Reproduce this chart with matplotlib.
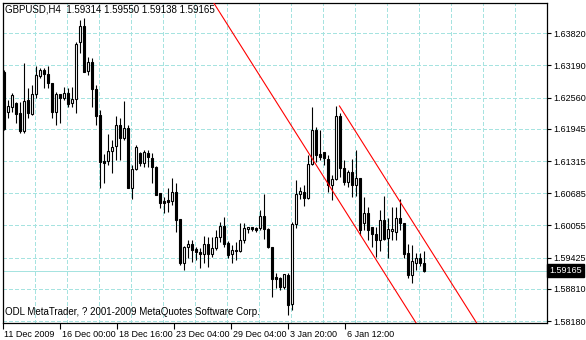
import matplotlib
matplotlib.use("Agg")
import matplotlib.pyplot as plt
import matplotlib.transforms as mtransforms
import numpy as np

FONT = ['Liberation Sans', 'DejaVu Sans']
plt.rcParams['font.family'] = FONT

# ---------------- data (GBPUSD, H4) ----------------
opens = [1.63062, 1.62284, 1.62370, 1.62448, 1.62252, 1.61905, 1.62513, 1.62233, 1.62625, 1.62989,
         1.63101, 1.63017, 1.62837, 1.62284, 1.62625, 1.62546, 1.62644, 1.62448, 1.62527, 1.63644,
         1.63963, 1.63081, 1.63252, 1.62723, 1.62219, 1.61323, 1.61317, 1.61513, 1.61611, 1.62023,
         1.61774, 1.61958, 1.60794, 1.61155, 1.61468, 1.61284, 1.61480, 1.61370, 1.61206, 1.60684,
         1.60539, 1.60553, 1.60539, 1.60704, 1.60181, 1.59324, 1.59638, 1.59685, 1.59593, 1.59540,
         1.59489, 1.59685, 1.59489, 1.59606, 1.59834, 1.60043, 1.59704, 1.59495, 1.59548, 1.59559,
         1.59769, 1.59979, 1.60018, 1.59998, 1.59998, 1.60239, 1.59979, 1.59638, 1.59050, 1.59018,
         1.58854, 1.59083, 1.58515, 1.60083, 1.60665, 1.60716, 1.60586, 1.61253, 1.61925, 1.61455,
         1.61488, 1.61351, 1.60847, 1.60965, 1.62199, 1.61174, 1.60912, 1.61108, 1.60847, 1.60978,
         1.60108, 1.60292, 1.60018, 1.59887, 1.59769, 1.60161, 1.59802, 1.59945, 1.59932, 1.60194,
         1.60108, 1.59508, 1.59083, 1.59324, 1.59422, 1.59314]
highs = [1.63101, 1.62513, 1.62656, 1.62480, 1.62480, 1.63232, 1.62754, 1.62807, 1.63179, 1.63134,
         1.63134, 1.63185, 1.62846, 1.62664, 1.62631, 1.62774, 1.62742, 1.62762, 1.63656, 1.64081,
         1.64120, 1.63362, 1.63330, 1.62807, 1.62317, 1.61455, 1.61847, 1.61729, 1.62199, 1.62154,
         1.62493, 1.62023, 1.61239, 1.61631, 1.61500, 1.61533, 1.61533, 1.61468, 1.61219, 1.60696,
         1.60618, 1.60782, 1.60978, 1.60880, 1.60181, 1.59651, 1.59769, 1.59769, 1.59638, 1.59606,
         1.59847, 1.59834, 1.59822, 1.59965, 1.60128, 1.60226, 1.59749, 1.59671, 1.59736, 1.60108,
         1.60108, 1.60030, 1.60030, 1.60030, 1.60357, 1.60671, 1.59998, 1.59638, 1.59116, 1.59050,
         1.59103, 1.59112, 1.60128, 1.60945, 1.60802, 1.60847, 1.61435, 1.62382, 1.61990, 1.61925,
         1.61500, 1.61435, 1.61043, 1.62395, 1.62252, 1.61337, 1.61141, 1.61351, 1.61533, 1.60984,
         1.60618, 1.60422, 1.60030, 1.60030, 1.60357, 1.60631, 1.60194, 1.60422, 1.60422, 1.60567,
         1.60108, 1.59691, 1.59671, 1.59520, 1.59520, 1.59550]
lows = [1.61925, 1.62166, 1.62284, 1.62056, 1.61872, 1.61872, 1.62154, 1.62219, 1.62546, 1.62950,
        1.62754, 1.62742, 1.62166, 1.62023, 1.62056, 1.62513, 1.62382, 1.62382, 1.62252, 1.63428,
        1.63062, 1.63003, 1.62382, 1.62023, 1.60782, 1.60880, 1.61239, 1.61076, 1.61337, 1.61337,
        1.61729, 1.60782, 1.60567, 1.61141, 1.61219, 1.61194, 1.61200, 1.60880, 1.60641, 1.60390,
        1.60292, 1.60324, 1.60455, 1.59932, 1.59279, 1.59181, 1.59410, 1.59344, 1.59377, 1.59226,
        1.59312, 1.59246, 1.59430, 1.59573, 1.59736, 1.59638, 1.59416, 1.59312, 1.59377, 1.59540,
        1.59704, 1.59900, 1.59951, 1.59932, 1.59965, 1.59783, 1.59612, 1.58658, 1.58822, 1.58789,
        1.58803, 1.58299, 1.58397, 1.59998, 1.60567, 1.60435, 1.60573, 1.61239, 1.61298, 1.61337,
        1.61239, 1.60710, 1.60553, 1.60945, 1.61010, 1.60847, 1.60814, 1.60618, 1.60631, 1.59867,
        1.59965, 1.59769, 1.59638, 1.59442, 1.59559, 1.59759, 1.59410, 1.59769, 1.59769, 1.59965,
        1.59416, 1.59024, 1.58920, 1.59181, 1.59259, 1.59138]
closes = [1.61945, 1.62395, 1.62611, 1.62245, 1.61905, 1.62493, 1.62264, 1.62625, 1.63003, 1.63101,
          1.63017, 1.62837, 1.62284, 1.62625, 1.62546, 1.62644, 1.62429, 1.62533, 1.63605, 1.63963,
          1.63068, 1.63252, 1.62723, 1.62199, 1.61304, 1.61284, 1.61513, 1.61598, 1.62023, 1.61774,
          1.61958, 1.60794, 1.61155, 1.61586, 1.61284, 1.61500, 1.61396, 1.61206, 1.60651, 1.60500,
          1.60500, 1.60514, 1.60716, 1.60161, 1.59324, 1.59638, 1.59685, 1.59573, 1.59540, 1.59489,
          1.59685, 1.59489, 1.59606, 1.59834, 1.60043, 1.59691, 1.59475, 1.59573, 1.59573, 1.59769,
          1.59998, 1.60030, 1.59979, 1.59965, 1.60239, 1.59979, 1.59638, 1.58999, 1.58999, 1.58842,
          1.59103, 1.58495, 1.60083, 1.60665, 1.60729, 1.60586, 1.61253, 1.61925, 1.61435, 1.61402,
          1.61370, 1.60847, 1.60965, 1.62199, 1.61174, 1.60912, 1.61108, 1.60847, 1.60978, 1.59965,
          1.60304, 1.59965, 1.59887, 1.59769, 1.60161, 1.59783, 1.59985, 1.59985, 1.60194, 1.60108,
          1.59495, 1.59083, 1.59357, 1.59410, 1.59312, 1.59165]

symbol = "GBPUSD,H4"
last_ohlc = ["1.59314", "1.59550", "1.59138", "1.59165"]
current_price = 1.59165
price_ticks = [1.63820, 1.63190, 1.62560, 1.61945, 1.61315, 1.60685, 1.60055, 1.59425, 1.58810, 1.58180]
price_labels = ["1.63820", "1.63190", "1.62560", "1.61945", "1.61315", "1.60685",
                "1.60055", "1.59425", "1.58810", "1.58180"]
time_tick_pos = [-0.25, 14.05, 28.3, 42.55, 56.8, 71.05, 85.3]
time_labels = ["11 Dec 2009", "16 Dec 00:00", "18 Dec 16:00", "23 Dec 04:00",
               "29 Dec 04:00", "3 Jan 20:00", "6 Jan 12:00"]
copyright_text = "ODL MetaTrader, ? 2001-2009 MetaQuotes Software Corp."

# channel lines (bar index, price)
channel_lower_x = [40.0, 140.0]
channel_lower_y = [1.65960, 1.53560]
channel_upper_x = [83.9, 140.0]
channel_upper_y = [1.62395, 1.55439]

# ---------------- figure ----------------
W, H = 586, 340
fig = plt.figure(figsize=(W / 100, H / 100), dpi=100)
fig.patch.set_facecolor('white')
ax = fig.add_axes([3 / W, 17 / H, 544 / W, 320 / H])
ax.set_facecolor('white')

ax.set_xlim(-0.175, 135.8)
ax.set_ylim(1.58141, 1.64414)

grid_col = '#a6e3e0'
for p in price_ticks:
    ax.axhline(p, color=grid_col, lw=0.72, ls=(0, (4, 2.5)), zorder=0, antialiased=False)
for n in range(1, 17):
    ax.axvline(8 * n - 0.175, color=grid_col, lw=0.72, ls=(0, (4, 2.5)), zorder=0,
               antialiased=False)

ax.axhline(current_price, color='#a6e3e0', lw=0.72, zorder=1, antialiased=False)

# candles
o = np.array(opens); h = np.array(highs); l = np.array(lows); c = np.array(closes)
x = np.arange(len(o))
ax.vlines(x, l, h, color='black', lw=0.8, zorder=2)
bull = c >= o
bot = np.minimum(o, c)
hei = np.maximum(np.abs(c - o), 0.00004)
ax.bar(x[bull], hei[bull], bottom=bot[bull], width=0.55, facecolor='white',
       edgecolor='black', linewidth=0.8, zorder=3)
ax.bar(x[~bull], hei[~bull], bottom=bot[~bull], width=0.55, facecolor='black',
       edgecolor='black', linewidth=0.8, zorder=3)

# channel
ax.plot(channel_lower_x, channel_lower_y, color='#ff0000', lw=0.8, zorder=4)
ax.plot(channel_upper_x, channel_upper_y, color='#ff0000', lw=0.8, zorder=4)

for s in ax.spines.values():
    s.set_color('black')
    s.set_linewidth(0.9)

FS = 6.5
ax.yaxis.tick_right()
ax.set_yticks(price_ticks)
ax.set_yticklabels(price_labels)
ax.tick_params(axis='y', direction='out', length=3, width=0.8, pad=1.5,
               labelsize=FS, colors='black')
ax.set_xticks(time_tick_pos)
ax.set_xticklabels(time_labels)
ax.tick_params(axis='x', direction='out', length=4, width=0.8, pad=1,
               labelsize=FS, colors='black')
offset = mtransforms.ScaledTranslation(1.5 / 100, 0, fig.dpi_scale_trans)
for t in ax.get_xticklabels():
    t.set_ha('left')
    t.set_transform(t.get_transform() + offset)

trans = mtransforms.blended_transform_factory(ax.transAxes, ax.transData)
ax.text(1.004, current_price, f"{current_price:.5f}", transform=trans, fontsize=FS,
        color='white', va='center', ha='left', clip_on=False, zorder=10,
        bbox=dict(boxstyle='square,pad=0.2', facecolor='black', edgecolor='black'))

ax.text(2 / 544, 1 - 1.5 / 320, symbol + "  " + " ".join(last_ohlc), transform=ax.transAxes,
        fontsize=7, va='top', ha='left', color='black', zorder=10)
ax.text(2 / 544, 6 / 320, copyright_text, transform=ax.transAxes,
        fontsize=7, va='bottom', ha='left', color='black', zorder=10)

fig.savefig("out.png", dpi=100, facecolor='white')
